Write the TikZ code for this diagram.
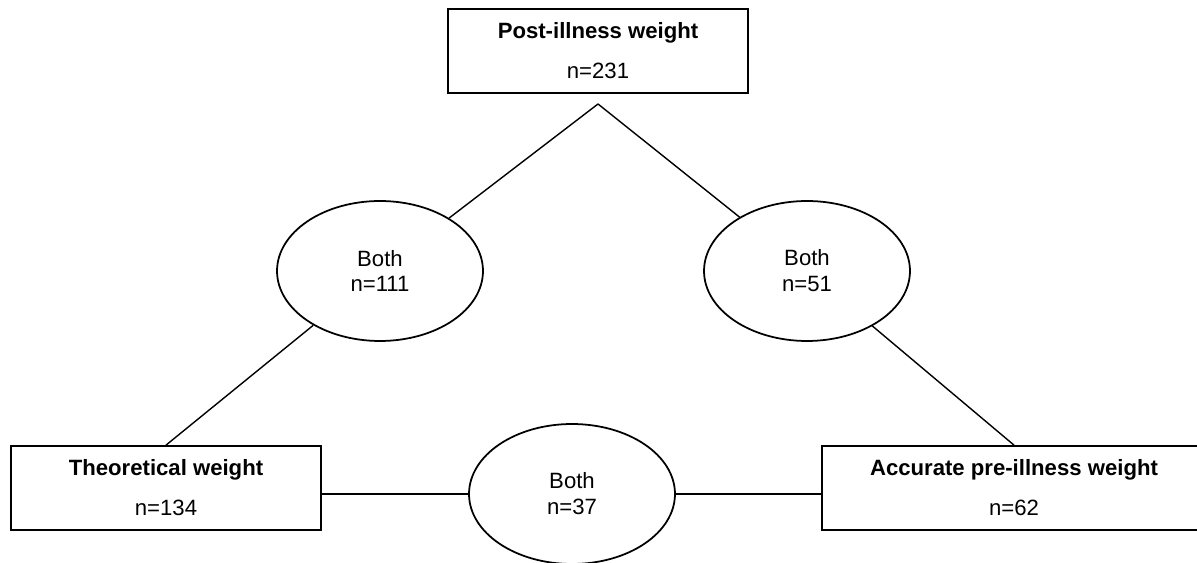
\documentclass[tikz,border=0pt]{standalone}
\usepackage{fontspec}
\setmainfont{Liberation Sans}
\usepackage{tikz}
\usetikzlibrary{shapes.geometric}

\begin{document}
\begin{tikzpicture}[
    x=0.02cm, y=-0.02cm,
    group/.style={rectangle, draw=black, line width=1pt, minimum height=1.68cm, inner sep=0pt, align=center, font=\fontsize{12.6pt}{15pt}\selectfont},
    both/.style={ellipse, draw=black, line width=1pt, minimum width=4.12cm, minimum height=2.8cm, inner sep=0pt, align=center, font=\fontsize{12.6pt}{14.7pt}\selectfont},
    link/.style={line width=0.8pt},
]
    \useasboundingbox (0,0) rectangle (1197,563);

    \node[group, minimum width=6cm] (post) at (598,51) {\textbf{Post-illness weight}\\[7.7pt] n=231};
    \node[group, minimum width=6.2cm] (theo) at (166,488) {\textbf{Theoretical weight}\\[7.7pt] n=134};
    \node[group, minimum width=7.68cm] (acc) at (1014,488) {\textbf{Accurate pre-illness weight}\\[7.7pt] n=62};

    \node[both] (bothleft) at (380,271) {Both\\ n=111};
    \node[both] (bothright) at (807,271) {Both\\ n=51};
    \node[both] (bothmid) at (572,494) {Both\\ n=37};

    \coordinate (apex) at (598,104);

    \draw[link] (apex) -- (bothleft);
    \draw[link] (apex) -- (bothright);
    \draw[link] (bothleft) -- (theo.north);
    \draw[link] (bothright) -- (acc.north);
    \draw[link] (theo.east |- bothmid.west) -- (bothmid.west);
    \draw[link] (bothmid.east) -- (bothmid.east -| acc.west);
\end{tikzpicture}
\end{document}
